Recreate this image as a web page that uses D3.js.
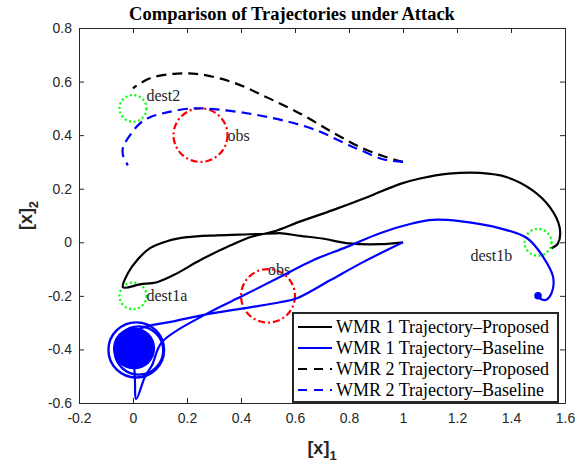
<!doctype html>
<html lang="en">
<head>
<meta charset="utf-8">
<title>Comparison of Trajectories under Attack</title>
<script src="https://d3js.org/d3.v7.min.js"></script>
<style>
  body { margin: 0; background: #fff; }
  svg { display: block; }
  .tick text { font-family: "Liberation Sans", Arial, Helvetica, sans-serif; font-size: 14px; fill: #262626; }
  .tick line, .domain { stroke: #262626; }
</style>
</head>
<body>
<div id="chart"></div>
<script>
// ---- values ----
var xTicks = [-0.2, 0, 0.2, 0.4, 0.6, 0.8, 1, 1.2, 1.4, 1.6];
var yTicks = [-0.6, -0.4, -0.2, 0, 0.2, 0.4, 0.6, 0.8];

// WMR 1, proposed controller (starts at (1,0))
var wmr1Proposed = [
  [1.0, 0.0], [0.915, -0.007], [0.80, -0.004], [0.70, 0.014], [0.62, 0.024],
  [0.544, 0.034], [0.52, 0.033], [0.433, 0.03], [0.31, 0.026], [0.2, 0.019],
  [0.126, 0.004], [0.063, -0.022], [0.015, -0.067], [-0.019, -0.116], [-0.037, -0.168],
  [0.026, -0.157], [0.089, -0.149], [0.163, -0.116], [0.248, -0.067], [0.348, -0.018],
  [0.433, 0.019], [0.52, 0.04], [0.62, 0.078], [0.74, 0.12], [0.867, 0.168],
  [0.99, 0.218], [1.063, 0.238], [1.17, 0.256], [1.285, 0.259], [1.385, 0.243],
  [1.48, 0.194], [1.544, 0.131], [1.58, 0.056], [1.574, -0.004], [1.55, -0.022]
];

// WMR 1, baseline controller (gets trapped circling near (0,-0.4))
var wmr1Baseline = [
  [1.0, 0.0], [0.852, -0.074], [0.73, -0.142], [0.607, -0.209], [0.544, -0.224],
  [0.433, -0.243], [0.267, -0.27], [0.15, -0.295], [0.048, -0.315], [-0.02, -0.35],
  [0.005, -0.475], [0.012, -0.585], [0.045, -0.5], [0.07, -0.46], [0.107, -0.373],
  [0.267, -0.27], [0.41, -0.198], [0.544, -0.13], [0.667, -0.067], [0.79, -0.018],
  [0.915, 0.034], [1.037, 0.071], [1.11, 0.084], [1.21, 0.079], [1.36, 0.052],
  [1.46, 0.015], [1.52, -0.056], [1.556, -0.13], [1.55, -0.19], [1.526, -0.216],
  [1.5, -0.205]
];
// loops of the baseline trajectory around its trap point
var trapDisc = [{cx: 0.004, cy: -0.396, r: 0.078}];
var trapRings = [{cx: 0.012, cy: -0.402, r: 0.103}, {cx: 0.022, cy: -0.404, r: 0.09}];
var endDot = [{cx: 1.5, cy: -0.2, r: 0.014}];

// WMR 2 (starts at (1,0.3))
var wmr2Proposed = [
  [1.0, 0.3], [0.926, 0.322], [0.84, 0.356], [0.74, 0.41], [0.62, 0.48],
  [0.496, 0.541], [0.37, 0.597], [0.248, 0.627], [0.163, 0.63], [0.074, 0.616],
  [0.026, 0.593], [0.0, 0.575]
];
var wmr2Baseline = [
  [1.0, 0.3], [0.926, 0.31], [0.84, 0.345], [0.8, 0.362], [0.68, 0.418],
  [0.556, 0.455], [0.433, 0.48], [0.31, 0.496], [0.222, 0.5], [0.126, 0.485],
  [0.063, 0.467], [0.026, 0.444], [-0.011, 0.4], [-0.037, 0.354], [-0.037, 0.325],
  [-0.019, 0.287]
];

// destinations and obstacles
var destinations = [
  {name: "dest2", cx: 0, cy: 0.5, r: 0.05, lx: 0.05, ly: 0.55},
  {name: "dest1a", cx: 0, cy: -0.2, r: 0.05, lx: 0.05, ly: -0.2},
  {name: "dest1b", cx: 1.5, cy: 0, r: 0.05, lx: 1.25, ly: -0.05}
];
var obstacles = [
  {name: "obs", cx: 0.25, cy: 0.4, r: 0.1, lx: 0.35, ly: 0.4},
  {name: "obs", cx: 0.5, cy: -0.2, r: 0.1, lx: 0.5, ly: -0.1}
];

var legendLabels = ["WMR 1 Trajectory\u2013Proposed", "WMR 1 Trajectory\u2013Baseline",
                    "WMR 2 Trajectory\u2013Proposed", "WMR 2 Trajectory\u2013Baseline"];

// ---- layout ----
var margin = {top: 28, right: 22, bottom: 59, left: 79},
    width = 587 - margin.left - margin.right,
    height = 462 - margin.top - margin.bottom;

var x = d3.scaleLinear().domain([-0.2, 1.6]).range([0, width]);
var y = d3.scaleLinear().domain([-0.6, 0.8]).range([height, 0]);

var svg = d3.select("#chart").append("svg")
  .attr("width", 587)
  .attr("height", 462);

var g = svg.append("g")
  .attr("transform", "translate(" + margin.left + "," + margin.top + ")");

var fmt = function(d) { return String(+d.toFixed(1)); };

// axes, ticks pointing inwards on all four sides
g.append("g")
  .attr("transform", "translate(0," + height + ")")
  .call(d3.axisBottom(x).tickValues(xTicks).tickFormat(fmt).tickSizeInner(-5).tickSizeOuter(0).tickPadding(10));
g.append("g")
  .call(d3.axisTop(x).tickValues(xTicks).tickFormat("").tickSizeInner(-5).tickSizeOuter(0));
g.append("g")
  .call(d3.axisLeft(y).tickValues(yTicks).tickFormat(fmt).tickSizeInner(-5).tickSizeOuter(0).tickPadding(7));
g.append("g")
  .attr("transform", "translate(" + width + ",0)")
  .call(d3.axisRight(y).tickValues(yTicks).tickFormat("").tickSizeInner(-5).tickSizeOuter(0));

// circles for destinations (green dotted) and obstacles (red dash-dot)
function ellipse(sel) {
  sel.attr("cx", function(d) { return x(d.cx); })
    .attr("cy", function(d) { return y(d.cy); })
    .attr("rx", function(d) { return x(d.r) - x(0); })
    .attr("ry", function(d) { return y(0) - y(d.r); });
}

g.selectAll(".dest").data(destinations).enter().append("ellipse")
  .attr("class", "dest")
  .call(ellipse)
  .attr("fill", "none")
  .attr("stroke", "#00ff00")
  .attr("stroke-width", 2.2)
  .attr("stroke-dasharray", "2,2.6");

g.selectAll(".obs").data(obstacles).enter().append("ellipse")
  .attr("class", "obs")
  .call(ellipse)
  .attr("fill", "none")
  .attr("stroke", "#ff0000")
  .attr("stroke-width", 2.2)
  .attr("stroke-dasharray", "7,3,2,3");

// labels
g.selectAll(".lbl").data(destinations.concat(obstacles)).enter().append("text")
  .attr("class", "lbl")
  .attr("x", function(d) { return x(d.lx); })
  .attr("y", function(d) { return y(d.ly); })
  .attr("dy", "0.35em")
  .attr("font-family", "'Liberation Serif', 'Times New Roman', serif")
  .attr("font-size", "16px")
  .attr("fill", "#262626")
  .text(function(d) { return d.name; });

// trajectories
var line = d3.line()
  .x(function(d) { return x(d[0]); })
  .y(function(d) { return y(d[1]); })
  .curve(d3.curveCatmullRom.alpha(0.5));

var series = [
  {data: wmr1Proposed, color: "#000000", dash: null},
  {data: wmr1Baseline, color: "#0000ff", dash: null},
  {data: wmr2Proposed, color: "#000000", dash: "10,6"},
  {data: wmr2Baseline, color: "#0000ff", dash: "10,6"}
];

series.forEach(function(s) {
  g.append("path")
    .datum(s.data)
    .attr("d", line)
    .attr("fill", "none")
    .attr("stroke", s.color)
    .attr("stroke-width", 2.2)
    .attr("stroke-linejoin", "round")
    .attr("stroke-dasharray", s.dash);
});

// baseline WMR1 circling around the trap
g.selectAll(".trap").data(trapDisc.concat(endDot)).enter().append("ellipse")
  .attr("class", "trap")
  .call(ellipse)
  .attr("fill", "#0000ff");
g.selectAll(".ring").data(trapRings).enter().append("ellipse")
  .attr("class", "ring")
  .call(ellipse)
  .attr("fill", "none")
  .attr("stroke", "#0000ff")
  .attr("stroke-width", 2.4);

// legend
var legend = svg.append("g").attr("transform", "translate(293,313)");
legend.append("rect")
  .attr("width", 265)
  .attr("height", 89)
  .attr("fill", "#fff")
  .attr("stroke", "#262626")
  .attr("stroke-width", 2);

legendLabels.forEach(function(lbl, i) {
  var s = series[i];
  var row = legend.append("g").attr("transform", "translate(0," + (14 + i * 21) + ")");
  row.append("line")
    .attr("x1", 5).attr("x2", 39)
    .attr("stroke", s.color)
    .attr("stroke-width", 2.2)
    .attr("stroke-dasharray", s.dash ? "9,7" : null);
  row.append("text")
    .attr("x", 43)
    .attr("dy", "0.35em")
    .attr("font-family", "'Liberation Serif', 'Times New Roman', serif")
    .attr("font-size", "18px")
    .attr("fill", "#000")
    .text(lbl);
});

// title and axis labels
svg.append("text")
  .attr("x", 292)
  .attr("y", 20)
  .attr("text-anchor", "middle")
  .attr("font-family", "'Liberation Serif', 'Times New Roman', serif")
  .attr("font-weight", "bold")
  .attr("font-size", "18.5px")
  .attr("fill", "#000")
  .text("Comparison of Trajectories under Attack");

var xl = svg.append("text")
  .attr("x", margin.left + width / 2)
  .attr("y", 454)
  .attr("text-anchor", "middle")
  .attr("font-family", "'Liberation Sans', Arial, sans-serif")
  .attr("font-weight", "bold")
  .attr("font-size", "18px")
  .attr("fill", "#262626");
xl.append("tspan").text("[x]");
xl.append("tspan").attr("dy", 6).attr("font-size", "13px").text("1");

var yl = svg.append("text")
  .attr("transform", "translate(32," + (margin.top + height / 2) + ") rotate(-90)")
  .attr("text-anchor", "middle")
  .attr("font-family", "'Liberation Sans', Arial, sans-serif")
  .attr("font-weight", "bold")
  .attr("font-size", "18px")
  .attr("fill", "#262626");
yl.append("tspan").text("[x]");
yl.append("tspan").attr("dy", 6).attr("font-size", "13px").text("2");
</script>
</body>
</html>
